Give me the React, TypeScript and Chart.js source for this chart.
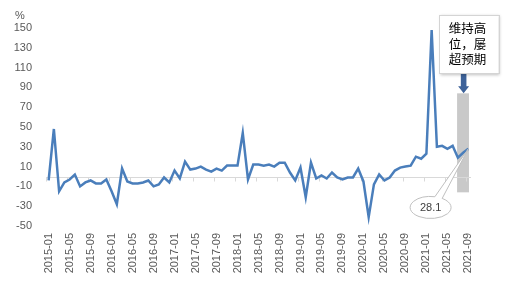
import React, { useEffect, useRef } from 'react';
import { Chart, registerables } from 'chart.js';

Chart.register(...registerables);

// Categories: monthly, 2015-01 .. 2021-09
const MONTHS: string[] = [
  '2015-01', '2015-02', '2015-03', '2015-04', '2015-05', '2015-06', '2015-07', '2015-08', '2015-09', '2015-10', '2015-11', '2015-12',
  '2016-01', '2016-02', '2016-03', '2016-04', '2016-05', '2016-06', '2016-07', '2016-08', '2016-09', '2016-10', '2016-11', '2016-12',
  '2017-01', '2017-02', '2017-03', '2017-04', '2017-05', '2017-06', '2017-07', '2017-08', '2017-09', '2017-10', '2017-11', '2017-12',
  '2018-01', '2018-02', '2018-03', '2018-04', '2018-05', '2018-06', '2018-07', '2018-08', '2018-09', '2018-10', '2018-11', '2018-12',
  '2019-01', '2019-02', '2019-03', '2019-04', '2019-05', '2019-06', '2019-07', '2019-08', '2019-09', '2019-10', '2019-11', '2019-12',
  '2020-01', '2020-02', '2020-03', '2020-04', '2020-05', '2020-06', '2020-07', '2020-08', '2020-09', '2020-10', '2020-11', '2020-12',
  '2021-01', '2021-02', '2021-03', '2021-04', '2021-05', '2021-06', '2021-07', '2021-08', '2021-09',
];

// Series values (%)
const GROWTH: number[] = [
  -4, 48, -15, -6, -3, 2, -10, -6, -4, -7, -7, -3,
  -15, -28, 8, -5, -7, -7, -6, -4, -10, -8, -1, -6,
  6, -2, 15, 7, 8, 10, 7, 5, 8, 6, 11, 11,
  11, 44, -3, 12, 12, 11, 12, 10, 14, 14, 4, -4,
  9, -21, 14, -2, 1, -2, 4, -1, -3, -1, -1, 8,
  -5, -41, -8, 2, -4, -1, 6, 9, 10, 11, 20, 18,
  23, 148, 30, 31, 28, 31, 19, 24, 28.1,
];

// Axis
const Y_MIN = -50;
const Y_MAX = 150;
const Y_STEP = 20;
const Y_UNIT = '%';
const LABEL_EVERY = 4;

// Annotations
const HIGHLIGHT_FROM = '2021-07';
const HIGHLIGHT_TO = '2021-09';
const HIGHLIGHT_LOW = -16;
const HIGHLIGHT_HIGH = 84;
const ARROW_TOP = 107;
const NOTE_LINES: string[] = ['维持高', '位，屡', '超预期'];
const NOTE_TOP = 163;
const NOTE_BOTTOM = 104;
const CALLOUT_TEXT = '28.1';
const CALLOUT_AT = 72.8; // category position of the bubble centre
const CALLOUT_VALUE = -31.3;

const LABEL_FONT = '"Liberation Sans", Arial, sans-serif';
const CJK_FONT = '"Noto Sans CJK SC", sans-serif';

const annotationPlugin = {
  id: 'annotations',
  beforeDatasetsDraw(chart: any) {
    const { ctx, chartArea, scales } = chart;
    const x = scales.x;
    const y = scales.y;
    ctx.save();
    // highlight band
    const i0 = MONTHS.indexOf(HIGHLIGHT_FROM);
    const i1 = MONTHS.indexOf(HIGHLIGHT_TO);
    const rl = x.getPixelForValue(i0) - 0.8;
    const rr = x.getPixelForValue(i1) + 0.6;
    const rt = y.getPixelForValue(HIGHLIGHT_HIGH);
    const rb = y.getPixelForValue(HIGHLIGHT_LOW);
    ctx.fillStyle = '#c9c9c9';
    ctx.fillRect(rl, rt, rr - rl, rb - rt);
    // zero axis line
    const y0 = Math.round(y.getPixelForValue(0)) + 0.5;
    ctx.strokeStyle = '#d9d9d9';
    ctx.lineWidth = 1;
    ctx.beginPath();
    ctx.moveTo(chartArea.left, y0);
    ctx.lineTo(chartArea.right, y0);
    for (let i = 0; i < MONTHS.length; i += LABEL_EVERY) {
      const xb = Math.round(x.getPixelForValue(i - 0.5)) + 0.5;
      ctx.moveTo(xb, y0);
      ctx.lineTo(xb, y0 + 4);
    }
    ctx.stroke();
    ctx.restore();
  },
  afterDatasetsDraw(chart: any) {
    const { ctx, scales } = chart;
    const x = scales.x;
    const y = scales.y;
    ctx.save();
    // unit label
    ctx.fillStyle = '#595959';
    ctx.font = `11px ${LABEL_FONT}`;
    ctx.textAlign = 'center';
    ctx.textBaseline = 'middle';
    ctx.fillText(Y_UNIT, 20, 16);

    // arrow
    const i0 = MONTHS.indexOf(HIGHLIGHT_FROM);
    const i1 = MONTHS.indexOf(HIGHLIGHT_TO);
    const ax = (x.getPixelForValue(i0) + x.getPixelForValue(i1)) / 2 + 0.5;
    const at = y.getPixelForValue(ARROW_TOP);
    const ab = y.getPixelForValue(HIGHLIGHT_HIGH);
    const headH = 7;
    ctx.fillStyle = '#3d6299';
    ctx.beginPath();
    ctx.moveTo(ax - 2.8, at);
    ctx.lineTo(ax + 2.8, at);
    ctx.lineTo(ax + 2.8, ab - headH);
    ctx.lineTo(ax + 5.5, ab - headH);
    ctx.lineTo(ax, ab);
    ctx.lineTo(ax - 5.5, ab - headH);
    ctx.lineTo(ax - 2.8, ab - headH);
    ctx.closePath();
    ctx.fill();

    // note box
    const bl = ax - 25;
    const br = ax + 35;
    const bt = y.getPixelForValue(NOTE_TOP);
    const bb = y.getPixelForValue(NOTE_BOTTOM);
    ctx.save();
    ctx.shadowColor = 'rgba(0,0,0,0.25)';
    ctx.shadowBlur = 3;
    ctx.shadowOffsetX = 1;
    ctx.shadowOffsetY = 1;
    ctx.fillStyle = '#ffffff';
    ctx.fillRect(bl, bt, br - bl, bb - bt);
    ctx.restore();
    ctx.strokeStyle = '#d4d4d4';
    ctx.lineWidth = 1;
    ctx.strokeRect(Math.round(bl) + 0.5, Math.round(bt) + 0.5, Math.round(br - bl), Math.round(bb - bt));
    ctx.fillStyle = '#000000';
    ctx.font = `12.5px ${CJK_FONT}`;
    ctx.textAlign = 'left';
    ctx.textBaseline = 'middle';
    NOTE_LINES.forEach((line, k) => {
      ctx.fillText(line, bl + 10, bt + 13 + k * 15.8);
    });

    // callout bubble
    const last = GROWTH.length - 1;
    const tx = x.getPixelForValue(last);
    const ty = y.getPixelForValue(GROWTH[last]);
    const cx = x.getPixelForValue(CALLOUT_AT);
    const cy = y.getPixelForValue(CALLOUT_VALUE);
    const rx = 20.5;
    const ry = 11;
    const a1 = -0.97;
    const a2 = -1.36 + Math.PI * 2;
    ctx.beginPath();
    ctx.moveTo(tx, ty);
    ctx.lineTo(cx + rx * Math.cos(a1), cy + ry * Math.sin(a1));
    ctx.ellipse(cx, cy, rx, ry, 0, a1, a2, false);
    ctx.closePath();
    ctx.fillStyle = '#ffffff';
    ctx.fill();
    ctx.strokeStyle = '#bfbfbf';
    ctx.lineWidth = 1;
    ctx.stroke();
    ctx.fillStyle = '#404040';
    ctx.font = `11px ${LABEL_FONT}`;
    ctx.textAlign = 'center';
    ctx.textBaseline = 'middle';
    ctx.fillText(CALLOUT_TEXT, cx, cy);
    ctx.restore();
  },
};

export default function App() {
  const canvasRef = useRef<HTMLCanvasElement | null>(null);

  useEffect(() => {
    const canvas = canvasRef.current;
    if (!canvas) return;
    const chart = new Chart(canvas, {
      type: 'line',
      data: {
        labels: MONTHS,
        datasets: [
          {
            data: GROWTH,
            borderColor: '#4a7ebb',
            borderWidth: 2.5,
            pointRadius: 0,
            tension: 0,
            fill: false,
          },
        ],
      },
      options: {
        animation: false,
        responsive: false,
        devicePixelRatio: 1,
        layout: { padding: { top: 28, right: 34, left: 0, bottom: 0 } },
        plugins: {
          legend: { display: false },
          tooltip: { enabled: false },
        },
        scales: {
          x: {
            type: 'category',
            offset: true,
            grid: { display: false, drawTicks: false },
            border: { display: false },
            ticks: {
              autoSkip: false,
              minRotation: 90,
              maxRotation: 90,
              padding: 7,
              color: '#595959',
              font: { size: 11, family: LABEL_FONT },
              callback: (_v: any, idx: number) => (idx % LABEL_EVERY === 0 ? MONTHS[idx] : null),
            },
            afterFit: (scale: any) => {
              scale.height = 64;
            },
          },
          y: {
            min: Y_MIN,
            max: Y_MAX,
            grid: { display: false, drawTicks: false },
            border: { display: false },
            ticks: {
              stepSize: Y_STEP,
              padding: 14,
              color: '#595959',
              font: { size: 11, family: LABEL_FONT },
            },
            afterFit: (scale: any) => {
              scale.width = 46;
            },
          },
        },
      },
      plugins: [annotationPlugin],
    });
    return () => chart.destroy();
  }, []);

  return (
    <div style={{ position: 'fixed', left: 0, top: 0, width: 505, height: 290, background: '#ffffff' }}>
      <canvas ref={canvasRef} width={505} height={290} style={{ display: 'block', width: 505, height: 290 }} />
    </div>
  );
}
